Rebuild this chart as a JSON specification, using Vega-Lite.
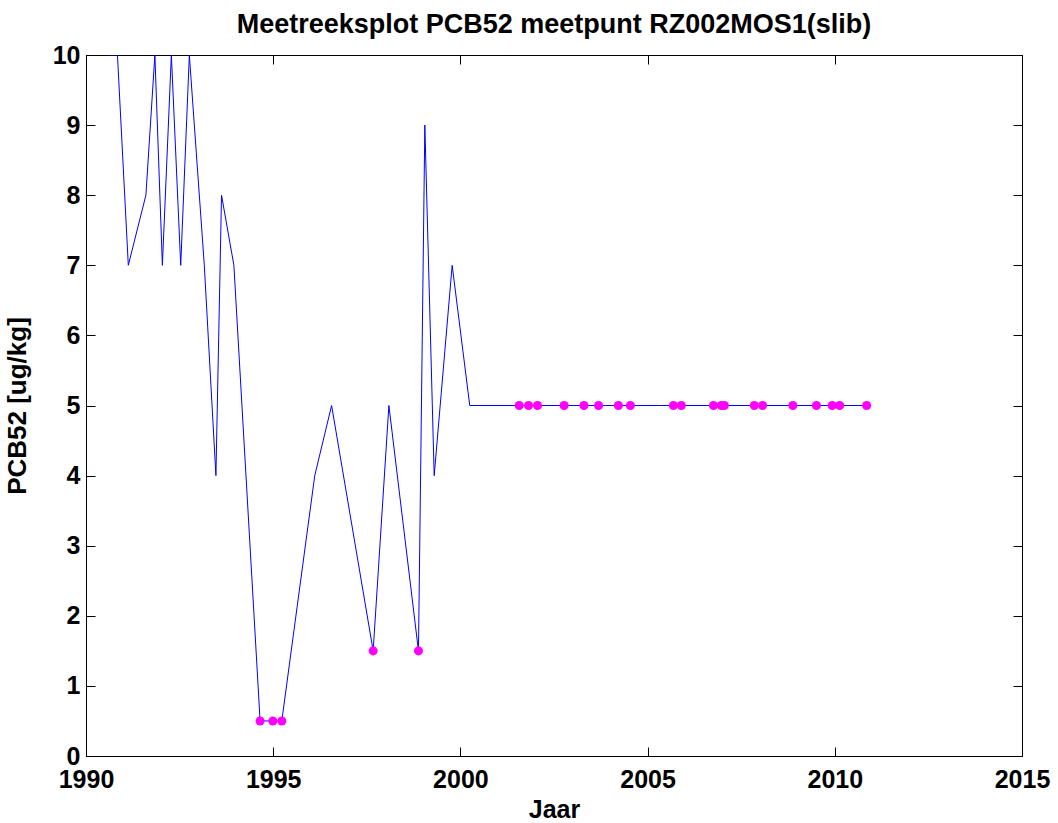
{
  "$schema": "https://vega.github.io/schema/vega-lite/v6.json",
  "width": 936,
  "height": 701,
  "autosize": {"type": "none"},
  "padding": {"left": 86, "top": 55, "right": 36, "bottom": 67},
  "background": "white",
  "title": {
    "text": "Meetreeksplot PCB52 meetpunt RZ002MOS1(slib)",
    "font": "Liberation Sans",
    "fontSize": 27,
    "fontWeight": "bold",
    "color": "black",
    "anchor": "middle",
    "offset": 4
  },
  "config": {
    "view": {"stroke": "black", "strokeWidth": 1},
    "axis": {
      "labelFont": "Liberation Sans",
      "labelFontSize": 25,
      "labelFontWeight": "bold",
      "labelColor": "black",
      "titleFont": "Liberation Sans",
      "titleFontSize": 25,
      "titleFontWeight": "bold",
      "titleColor": "black",
      "domainColor": "black",
      "domainWidth": 1,
      "tickColor": "black",
      "tickWidth": 1,
      "tickSize": -9,
      "grid": false
    }
  },
  "data": {
    "values": [
      {"jaar": 1990.60, "waarde": 10, "bdl": false},
      {"jaar": 1990.84, "waarde": 10, "bdl": false},
      {"jaar": 1991.13, "waarde": 7, "bdl": false},
      {"jaar": 1991.60, "waarde": 8, "bdl": false},
      {"jaar": 1991.84, "waarde": 10, "bdl": false},
      {"jaar": 1992.04, "waarde": 7, "bdl": false},
      {"jaar": 1992.28, "waarde": 10, "bdl": false},
      {"jaar": 1992.53, "waarde": 7, "bdl": false},
      {"jaar": 1992.76, "waarde": 10, "bdl": false},
      {"jaar": 1993.16, "waarde": 7, "bdl": false},
      {"jaar": 1993.47, "waarde": 4, "bdl": false},
      {"jaar": 1993.62, "waarde": 8, "bdl": false},
      {"jaar": 1993.95, "waarde": 7, "bdl": false},
      {"jaar": 1994.65, "waarde": 0.5, "bdl": true},
      {"jaar": 1994.99, "waarde": 0.5, "bdl": true},
      {"jaar": 1995.23, "waarde": 0.5, "bdl": true},
      {"jaar": 1996.11, "waarde": 4, "bdl": false},
      {"jaar": 1996.56, "waarde": 5, "bdl": false},
      {"jaar": 1997.67, "waarde": 1.5, "bdl": true},
      {"jaar": 1998.09, "waarde": 5, "bdl": false},
      {"jaar": 1998.88, "waarde": 1.5, "bdl": true},
      {"jaar": 1999.05, "waarde": 9, "bdl": false},
      {"jaar": 1999.30, "waarde": 4, "bdl": false},
      {"jaar": 1999.78, "waarde": 7, "bdl": false},
      {"jaar": 2000.25, "waarde": 5, "bdl": false},
      {"jaar": 2001.57, "waarde": 5, "bdl": true},
      {"jaar": 2001.82, "waarde": 5, "bdl": true},
      {"jaar": 2002.06, "waarde": 5, "bdl": true},
      {"jaar": 2002.77, "waarde": 5, "bdl": true},
      {"jaar": 2003.30, "waarde": 5, "bdl": true},
      {"jaar": 2003.69, "waarde": 5, "bdl": true},
      {"jaar": 2004.22, "waarde": 5, "bdl": true},
      {"jaar": 2004.54, "waarde": 5, "bdl": true},
      {"jaar": 2005.69, "waarde": 5, "bdl": true},
      {"jaar": 2005.90, "waarde": 5, "bdl": true},
      {"jaar": 2006.76, "waarde": 5, "bdl": true},
      {"jaar": 2006.97, "waarde": 5, "bdl": true},
      {"jaar": 2007.05, "waarde": 5, "bdl": true},
      {"jaar": 2007.85, "waarde": 5, "bdl": true},
      {"jaar": 2008.07, "waarde": 5, "bdl": true},
      {"jaar": 2008.88, "waarde": 5, "bdl": true},
      {"jaar": 2009.51, "waarde": 5, "bdl": true},
      {"jaar": 2009.93, "waarde": 5, "bdl": true},
      {"jaar": 2010.13, "waarde": 5, "bdl": true},
      {"jaar": 2010.85, "waarde": 5, "bdl": true}
    ]
  },
  "layer": [
    {
      "mark": {"type": "line", "color": "#0000ff", "strokeWidth": 1, "clip": true},
      "encoding": {
        "x": {
          "field": "jaar", "type": "quantitative",
          "scale": {"domain": [1990, 2015], "nice": false, "zero": false},
          "axis": {"orient": "bottom", "title": "Jaar", "values": [1990, 1995, 2000, 2005, 2010, 2015], "format": "d", "labelPadding": 20, "titlePadding": 5, "labelFlush": false}
        },
        "y": {
          "field": "waarde", "type": "quantitative",
          "scale": {"domain": [0, 10], "nice": false, "zero": true},
          "axis": {"orient": "left", "title": "PCB52 [ug/kg]", "values": [0, 1, 2, 3, 4, 5, 6, 7, 8, 9, 10], "format": "d", "labelPadding": 15, "titlePadding": 22, "titleFontSize": 26, "labelFlush": false}
        }
      }
    },
    {
      "transform": [{"filter": "datum.bdl"}],
      "mark": {"type": "point", "filled": true, "color": "#ff00ff", "size": 82, "opacity": 1, "clip": true},
      "encoding": {
        "x": {
          "field": "jaar", "type": "quantitative",
          "scale": {"domain": [1990, 2015], "nice": false, "zero": false},
          "axis": {"orient": "top", "title": null, "labels": false, "values": [1990, 1995, 2000, 2005, 2010, 2015]}
        },
        "y": {
          "field": "waarde", "type": "quantitative",
          "scale": {"domain": [0, 10], "nice": false, "zero": true},
          "axis": {"orient": "right", "title": null, "labels": false, "values": [0, 1, 2, 3, 4, 5, 6, 7, 8, 9, 10]}
        }
      }
    }
  ],
  "resolve": {"axis": {"x": "independent", "y": "independent"}}
}
